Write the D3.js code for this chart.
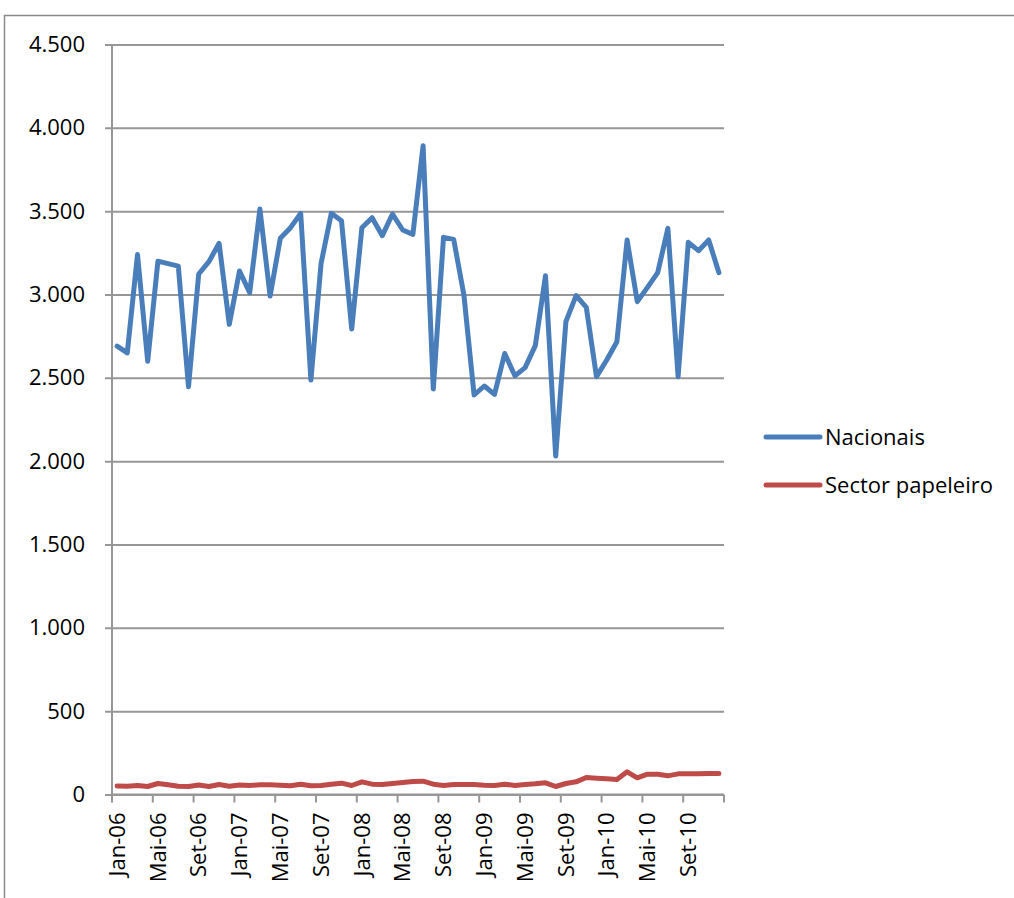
<!DOCTYPE html>
<html>
<head>
<meta charset="utf-8">
<script src="https://cdn.jsdelivr.net/npm/d3@7/dist/d3.min.js"></script>
<style>
  html, body { margin: 0; padding: 0; background: #fff; }
  svg { display: block; }
  text { font-family: "Open Sans", "Liberation Sans", sans-serif; fill: #000; }
</style>
</head>
<body>
<svg id="chart" width="1014" height="898"></svg>
<script>
// Monthly categories Jan-06 .. Dez-10
const monthNames = ["Jan","Fev","Mar","Abr","Mai","Jun","Jul","Ago","Set","Out","Nov","Dez"];
const years = ["06","07","08","09","10"];
const months = years.flatMap(y => monthNames.map(m => m + "-" + y));

// Series values
const nacionais = [
  2690, 2650, 3240, 2600, 3200, 3185, 3170, 2447, 3123, 3197, 3307, 2821,
  3141, 3011, 3513, 2991, 3337, 3401, 3487, 2487, 3187, 3487, 3443, 2793,
  3401, 3461, 3353, 3483, 3387, 3361, 3893, 2433, 3343, 3331, 2997, 2397,
  2451, 2401, 2646, 2512, 2561, 2693, 3113, 2031, 2837, 2993, 2923, 2507,
  2607, 2717, 3327, 2957, 3043, 3131, 3397, 2507, 3313, 3263, 3327, 3131
];
const sectorPapeleiro = [
  51, 50, 54, 48, 66, 58, 50, 48, 57, 48, 60, 50,
  57, 54, 58, 58, 56, 52, 62, 52, 54, 62, 68, 54,
  76, 62, 60, 66, 72, 78, 80, 62, 54, 60, 60, 60,
  56, 54, 62, 54, 60, 64, 70, 48, 66, 76, 102, 98,
  94, 90, 136, 100, 122, 122, 112, 124, 124, 124, 126, 126
];
const yTicks = [0, 500, 1000, 1500, 2000, 2500, 3000, 3500, 4000, 4500];
const seriesNames = ["Nacionais", "Sector papeleiro"];
const seriesColors = ["#4A7EBB", "#BE4B48"];

const svg = d3.select("#chart");

// Outer chart frame
svg.append("rect")
  .attr("x", 4.5).attr("y", 15.5)
  .attr("width", 1030).attr("height", 900)
  .attr("fill", "none").attr("stroke", "#8a8a8a").attr("stroke-width", 1.5);

const plot = { left: 112, right: 724, top: 44.5, bottom: 794.5 };

const x = d3.scaleBand().domain(months).range([plot.left, plot.right]).padding(0);
const y = d3.scaleLinear().domain([0, 4500]).range([plot.bottom, plot.top]);

const locale = d3.formatLocale({ decimal: ",", thousands: ".", grouping: [3], currency: ["€", ""] });
const fmt = locale.format(",.0f");

// Horizontal gridlines with y axis labels
const yAxis = d3.axisLeft(y).tickValues(yTicks).tickFormat(fmt)
  .tickSize(-(plot.right - plot.left) - 7).tickPadding(20);
const gy = svg.append("g")
  .attr("transform", `translate(${plot.left - 7},0)`)
  .call(yAxis);
gy.select(".domain").remove();
gy.selectAll(".tick line").attr("stroke", "#979797").attr("stroke-width", 2);
gy.selectAll(".tick text").attr("font-size", 22).attr("fill", "#000")
  .attr("x", -20).attr("dx", 0);

// Vertical axis line
svg.append("line")
  .attr("x1", plot.left).attr("x2", plot.left)
  .attr("y1", plot.top).attr("y2", plot.bottom)
  .attr("stroke", "#979797").attr("stroke-width", 2);

// Category axis: labels at month centers, tick marks at month boundaries
const labelMonths = months.filter((d, i) => i % 4 === 0);
const xAxis = d3.axisBottom(x).tickValues(labelMonths).tickSize(0).tickPadding(0);
const gx = svg.append("g")
  .attr("transform", `translate(0,${plot.bottom})`)
  .call(xAxis);
gx.select(".domain").remove();
gx.selectAll(".tick text")
  .attr("font-size", 22).attr("fill", "#000")
  .attr("transform", "rotate(-90)")
  .attr("text-anchor", "end")
  .attr("x", -18).attr("y", 0).attr("dy", "0.35em");

svg.append("line")
  .attr("x1", plot.left).attr("x2", plot.right)
  .attr("y1", plot.bottom).attr("y2", plot.bottom)
  .attr("stroke", "#979797").attr("stroke-width", 2);

const tickPositions = labelMonths.map(m => x(m)).concat([plot.right]);
svg.append("g").selectAll("line").data(tickPositions).join("line")
  .attr("x1", d => d).attr("x2", d => d)
  .attr("y1", plot.bottom).attr("y2", plot.bottom + 8)
  .attr("stroke", "#979797").attr("stroke-width", 2);

// Series lines
const line = d3.line()
  .x((d, i) => x(months[i]) + x.bandwidth() / 2)
  .y(d => y(d));

[nacionais, sectorPapeleiro].forEach((vals, k) => {
  svg.append("path")
    .datum(vals)
    .attr("d", line)
    .attr("fill", "none")
    .attr("stroke", seriesColors[k])
    .attr("stroke-width", 5)
    .attr("stroke-linejoin", "round")
    .attr("stroke-linecap", "round");
});

// Legend
const legend = svg.append("g").attr("transform", "translate(766,0)");
const legendY = [437, 485];
seriesNames.forEach((name, k) => {
  legend.append("line")
    .attr("x1", 0).attr("x2", 54)
    .attr("y1", legendY[k]).attr("y2", legendY[k])
    .attr("stroke", seriesColors[k]).attr("stroke-width", 5)
    .attr("stroke-linecap", "round");
  legend.append("text")
    .attr("x", 59).attr("y", legendY[k]).attr("dy", "0.35em")
    .attr("font-size", 22)
    .text(name);
});
</script>
</body>
</html>
